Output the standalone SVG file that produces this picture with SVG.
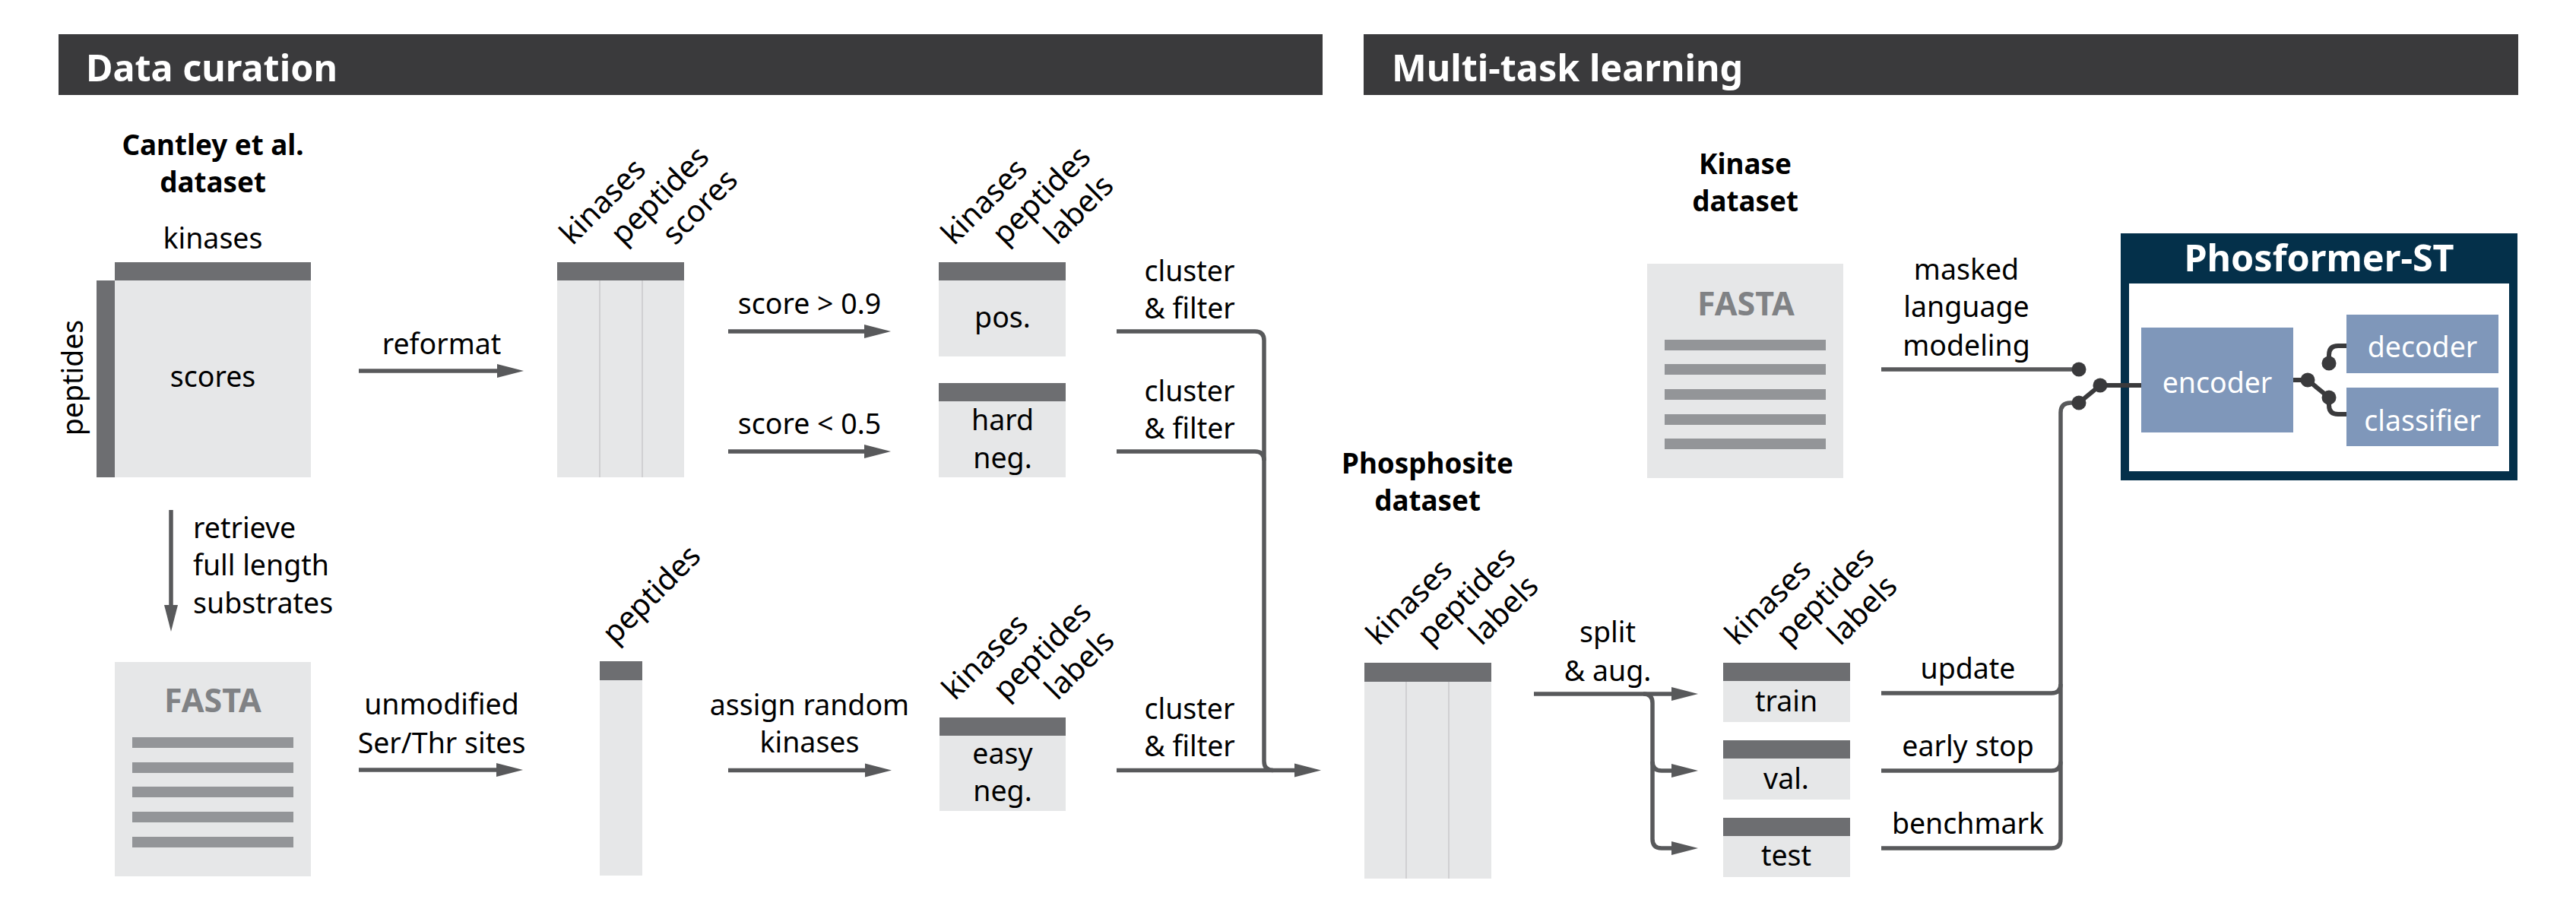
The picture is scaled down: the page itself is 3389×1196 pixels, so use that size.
<svg xmlns="http://www.w3.org/2000/svg" width="3389" height="1196" viewBox="0 0 3389 1196">
<defs>
<style>
text{font-family:"Noto Sans","Open Sans","Liberation Sans",sans-serif;font-size:37.5px;fill:#000}
.c{text-anchor:middle}
.b{font-weight:700;font-size:36.8px}
.hd{fill:#fff;font-weight:700;font-size:48.5px}
.fa{fill:#808285;font-weight:700;font-size:43px;text-anchor:middle}
.wt{fill:#fff;text-anchor:middle}
.r{font-size:40px}
.bar{fill:#6d6e71}
.bd{fill:#e6e7e8}
.dv{stroke:#c8c9cb;stroke-width:1.5}
.fl{fill:#939598}
.cn{fill:none;stroke:#58595b;stroke-width:5.5}
.dk{fill:none;stroke:#3a3a3c;stroke-width:6}
.dot{fill:#3a3a3c}
.mod{fill:#7f97ba}
</style>
<marker id="ah" markerUnits="userSpaceOnUse" markerWidth="36" markerHeight="20" refX="0" refY="9.5" orient="auto">
<path d="M0,0.5 L35,9.5 L0,18.5 z" fill="#58595b"/>
</marker>
</defs>
<rect width="3389" height="1196" fill="#fff"/>

<g id="header-data-curation">
<rect x="77" y="45" width="1663" height="80" fill="#3a3a3c"/>
<text class="hd" x="113" y="107">Data curation</text>
</g>
<g id="header-multitask">
<rect x="1794" y="45" width="1519" height="80" fill="#3a3a3c"/>
<text class="hd" x="1831" y="107">Multi-task learning</text>
</g>

<g id="cantley">
<text class="b c" x="280" y="204">Cantley et al.</text>
<text class="b c" x="280" y="253">dataset</text>
<text class="c" x="280" y="327">kinases</text>
<rect class="bar" x="151" y="345" width="258" height="24"/>
<rect class="bar" x="127" y="369" width="24" height="259"/>
<rect class="bd" x="151" y="369" width="258" height="259"/>
<text class="c" transform="translate(109,497) rotate(-90)">peptides</text>
<text class="c" x="280" y="509">scores</text>
</g>

<g id="table-scores">
<rect class="bar" x="733" y="345" width="167" height="24"/>
<rect class="bd" x="733" y="369" width="167" height="259"/>
<line class="dv" x1="789" y1="369" x2="789" y2="628"/>
<line class="dv" x1="845" y1="369" x2="845" y2="628"/>
<text class="r" transform="translate(753,324) rotate(-45)">kinases</text>
<text class="r" transform="translate(820,324) rotate(-45)">peptides</text>
<text class="r" transform="translate(888,324) rotate(-45)">scores</text>
</g>

<g id="table-pos">
<rect class="bar" x="1235" y="345" width="167" height="24"/>
<rect class="bd" x="1235" y="369" width="167" height="100"/>
<text class="r" transform="translate(1255,324) rotate(-45)">kinases</text>
<text class="r" transform="translate(1322,324) rotate(-45)">peptides</text>
<text class="r" transform="translate(1390,324) rotate(-45)">labels</text>
<text class="c" x="1319" y="431">pos.</text>
</g>

<g id="table-hardneg">
<rect class="bar" x="1235" y="504" width="167" height="24"/>
<rect class="bd" x="1235" y="528" width="167" height="100"/>
<text class="c" x="1319" y="566">hard</text>
<text class="c" x="1319" y="616">neg.</text>
</g>

<g id="fasta-substrates">
<rect class="bd" x="151" y="871" width="258" height="282"/>
<text class="fa" x="280" y="937">FASTA</text>
<rect class="fl" x="174" y="970" width="212" height="14"/>
<rect class="fl" x="174" y="1003" width="212" height="14"/>
<rect class="fl" x="174" y="1035" width="212" height="14"/>
<rect class="fl" x="174" y="1068" width="212" height="14"/>
<rect class="fl" x="174" y="1101" width="212" height="14"/>
</g>

<g id="table-peptides">
<rect class="bar" x="789" y="870" width="56" height="25"/>
<rect class="bd" x="789" y="895" width="56" height="257"/>
<text class="r" transform="translate(809,849) rotate(-45)">peptides</text>
</g>

<g id="table-easyneg">
<rect class="bar" x="1236" y="944" width="166" height="24"/>
<rect class="bd" x="1236" y="968" width="166" height="99"/>
<text class="r" transform="translate(1256,923) rotate(-45)">kinases</text>
<text class="r" transform="translate(1323,923) rotate(-45)">peptides</text>
<text class="r" transform="translate(1391,923) rotate(-45)">labels</text>
<text class="c" x="1319" y="1005">easy</text>
<text class="c" x="1319" y="1054">neg.</text>
</g>

<g id="phosphosite">
<text class="b c" x="1878" y="623">Phosphosite</text>
<text class="b c" x="1878" y="672">dataset</text>
<rect class="bar" x="1795" y="872" width="167" height="25"/>
<rect class="bd" x="1795" y="897" width="167" height="259"/>
<line class="dv" x1="1850" y1="897" x2="1850" y2="1156"/>
<line class="dv" x1="1906" y1="897" x2="1906" y2="1156"/>
<text class="r" transform="translate(1814,851) rotate(-45)">kinases</text>
<text class="r" transform="translate(1881,851) rotate(-45)">peptides</text>
<text class="r" transform="translate(1949,851) rotate(-45)">labels</text>
</g>

<g id="table-train">
<rect class="bar" x="2267" y="872" width="167" height="24"/>
<rect class="bd" x="2267" y="896" width="167" height="54"/>
<text class="r" transform="translate(2286,851) rotate(-45)">kinases</text>
<text class="r" transform="translate(2353,851) rotate(-45)">peptides</text>
<text class="r" transform="translate(2421,851) rotate(-45)">labels</text>
<text class="c" x="2350" y="936">train</text>
</g>
<g id="table-val">
<rect class="bar" x="2267" y="974" width="167" height="24"/>
<rect class="bd" x="2267" y="998" width="167" height="54"/>
<text class="c" x="2350" y="1038">val.</text>
</g>
<g id="table-test">
<rect class="bar" x="2267" y="1076" width="167" height="24"/>
<rect class="bd" x="2267" y="1100" width="167" height="54"/>
<text class="c" x="2350" y="1139">test</text>
</g>

<g id="kinase-dataset">
<text class="b c" x="2296" y="229">Kinase</text>
<text class="b c" x="2296" y="278">dataset</text>
<rect class="bd" x="2167" y="347" width="258" height="282"/>
<text class="fa" x="2297" y="415">FASTA</text>
<rect class="fl" x="2190" y="447" width="212" height="14"/>
<rect class="fl" x="2190" y="479" width="212" height="14"/>
<rect class="fl" x="2190" y="512" width="212" height="14"/>
<rect class="fl" x="2190" y="545" width="212" height="14"/>
<rect class="fl" x="2190" y="577" width="212" height="14"/>
</g>

<g id="phosformer">
<rect x="2790" y="307" width="522" height="325" fill="#04304a"/>
<rect x="2801" y="373" width="500" height="247" fill="#fff"/>
<text class="hd" x="3051" y="357" text-anchor="middle">Phosformer-ST</text>
<g id="encoder">
<rect class="mod" x="2817" y="431" width="200" height="138"/>
<text class="wt" x="2917" y="517">encoder</text>
</g>
<g id="decoder">
<rect class="mod" x="3087" y="414" width="200" height="77"/>
<text class="wt" x="3187" y="470">decoder</text>
</g>
<g id="classifier">
<rect class="mod" x="3087" y="510" width="200" height="77"/>
<text class="wt" x="3187" y="567">classifier</text>
</g>
</g>

<g id="connectors">
<path class="cn" d="M472,488 H654" marker-end="url(#ah)"/>
<path class="cn" d="M225,671 V796" marker-end="url(#ah)"/>
<path class="cn" d="M472,1013 H653" marker-end="url(#ah)"/>
<path class="cn" d="M958,436 H1137" marker-end="url(#ah)"/>
<path class="cn" d="M958,594 H1137" marker-end="url(#ah)"/>
<path class="cn" d="M958,1013.5 H1138" marker-end="url(#ah)"/>
<path class="cn" d="M1469,436 H1651 Q1663,436 1663,448 V1001.5 Q1663,1013.5 1675,1013.5"/>
<path class="cn" d="M1469,594 H1651 Q1663,594 1663,606"/>
<path class="cn" d="M1469,1013.5 H1703" marker-end="url(#ah)"/>
<path class="cn" d="M2018,913 H2199" marker-end="url(#ah)"/>
<path class="cn" d="M2162,913 Q2174,913 2174,925 V1104 Q2174,1116 2186,1116 H2199" marker-end="url(#ah)"/>
<path class="cn" d="M2174,1002 Q2174,1014 2186,1014 H2199" marker-end="url(#ah)"/>
<path class="cn" d="M2475,912 H2699 Q2711,912 2711,900"/>
<path class="cn" d="M2475,1014 H2699 Q2711,1014 2711,1002"/>
<path class="cn" d="M2475,1116 H2699 Q2711,1116 2711,1104 V543 Q2711,530 2724,530 H2735"/>
<path class="cn" d="M2475,486 H2735"/>
<path class="dk" d="M2735,530 L2763,507 H2817"/>
<path class="dk" d="M3017,500 H3036 L3064,523 V533 Q3064,545 3076,545 H3087"/>
<path class="dk" d="M3064,478 V467 Q3064,455 3076,455 H3087"/>
<circle class="dot" cx="2735" cy="486" r="9.5"/>
<circle class="dot" cx="2735" cy="530" r="9.5"/>
<circle class="dot" cx="2763" cy="507" r="9.5"/>
<circle class="dot" cx="3036" cy="500" r="9.5"/>
<circle class="dot" cx="3064" cy="523" r="9.5"/>
<circle class="dot" cx="3064" cy="478" r="9.5"/>
</g>

<g id="labels">
<text class="c" x="581" y="466">reformat</text>
<text x="254" y="708">retrieve</text>
<text x="254" y="757">full length</text>
<text x="254" y="807">substrates</text>
<text class="c" x="581" y="940">unmodified</text>
<text class="c" x="581" y="991">Ser/Thr sites</text>
<text class="c" x="1065" y="413">score &gt; 0.9</text>
<text class="c" x="1065" y="571">score &lt; 0.5</text>
<text class="c" x="1065" y="941">assign random</text>
<text class="c" x="1065" y="990">kinases</text>
<text class="c" x="1565" y="370">cluster</text>
<text class="c" x="1565" y="419">&amp; filter</text>
<text class="c" x="1565" y="528">cluster</text>
<text class="c" x="1565" y="577">&amp; filter</text>
<text class="c" x="1565" y="946">cluster</text>
<text class="c" x="1565" y="995">&amp; filter</text>
<text class="c" x="2115" y="845">split</text>
<text class="c" x="2115" y="896">&amp; aug.</text>
<text class="c" x="2587" y="368">masked</text>
<text class="c" x="2587" y="417">language</text>
<text class="c" x="2587" y="468">modeling</text>
<text class="c" x="2589" y="893">update</text>
<text class="c" x="2589" y="995">early stop</text>
<text class="c" x="2589" y="1097">benchmark</text>
</g>
</svg>
